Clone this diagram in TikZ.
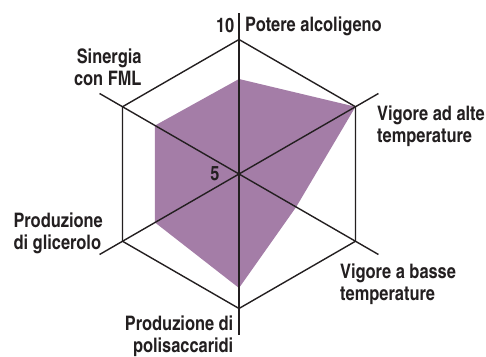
\documentclass[tikz,border=0pt]{standalone}
\usepackage{fontspec}
\newfontfamily\labfont{texgyreheroscn-bold.otf}
\usetikzlibrary{calc}
\definecolor{fillp}{HTML}{A47DA7}
\definecolor{ink}{HTML}{231F20}
\begin{document}
\begin{tikzpicture}[x=1pt,y=1pt,
  axis/.style={draw=ink,line width=1.4pt},
  hexa/.style={draw=ink,line width=1.4pt,line join=miter},
  lab/.style={inner sep=0pt,text=ink,font=\labfont\fontsize{20}{22}\selectfont},
  area/.style={fill=fillp,draw=none}]
\useasboundingbox (0,0) rectangle (486,356);
\coordinate (C) at (239,182);
% outer vertices
\foreach \a/\n in {90/t,30/ur,-30/lr,-90/b,-150/ll,150/ul}{
  \coordinate (v\n) at ($(C)+(\a:134.5)$);
  \coordinate (e\n) at ($(C)+(\a:161)$);
}
% data polygon
\coordinate (pt) at ($(C)+(90:95)$);
\coordinate (pur) at ($(C)+(30:134.5)$);
\coordinate (plr) at ($(C)+(-30:66)$);
\coordinate (pb) at ($(C)+(-90:114)$);
\coordinate (pll) at ($(C)+(-150:97)$);
\coordinate (pul) at ($(C)+(150:97)$);
\path[area] (pt) -- (pur) -- (plr) -- (pb) -- (pll) -- (pul) -- cycle;
% hexagon
\draw[hexa] (vt) -- (vur) -- (vlr) -- (vb) -- (vll) -- (vul) -- cycle;
% axes
\foreach \n in {t,ur,lr,b,ll,ul}{ \draw[axis] (C) -- (e\n); }
% labels
\node[lab,anchor=east] (n10) at (234.5,330) {10};
\node[lab,anchor=west] (lt) at (245,330) {Potere alcoligeno};
\node[lab,anchor=west,align=left] (lur) at (377,230) {Vigore ad alte\\temperature};
\node[lab,anchor=west,align=left] (llr) at (340,72) {Vigore a basse\\temperature};
\node[lab,anchor=east,align=right] (lb) at (233.5,19.5) {Produzione di\\polisaccaridi};
\node[lab,anchor=west,align=left] (lll) at (13.3,122.5) {Produzione\\di glicerolo};
\node[lab,anchor=east,align=right] (lul) at (141.7,289) {Sinergia\\con FML};
\node[lab] (n5) at (215,182) {5};
\end{tikzpicture}
\end{document}
